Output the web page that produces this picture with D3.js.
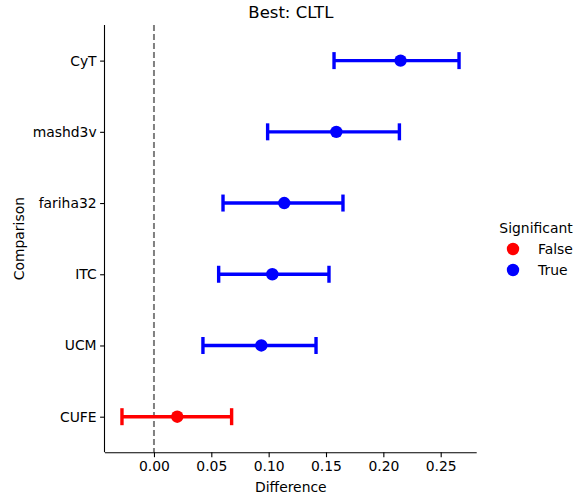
<!DOCTYPE html>
<html>
<head>
<meta charset="utf-8">
<script src="https://cdn.jsdelivr.net/npm/d3@7"></script>
<style>
  body { margin: 0; background: #fff; }
  svg { display: block; font-family: "DejaVu Sans", sans-serif; }
</style>
</head>
<body>
<svg id="chart" width="584" height="495"></svg>
<script>
const categories = ["CyT", "mashd3v", "fariha32", "ITC", "UCM", "CUFE"];
const means = [0.215, 0.159, 0.1136, 0.1032, 0.0936, 0.0203];
const lows = [0.157, 0.0991, 0.0602, 0.0564, 0.0427, -0.0279];
const highs = [0.266, 0.214, 0.1648, 0.1526, 0.1413, 0.0677];
const significant = [true, true, true, true, true, false];
const xTicks = [0.00, 0.05, 0.10, 0.15, 0.20, 0.25];
const legendLabels = ["False", "True"];
const colorMap = { "False": "#ff0000", "True": "#0000ff" };

const svg = d3.select("#chart");
const pLeft = 105, pRight = 476.7, pTop = 25, pBottom = 452.3;
const FS = "13.9px";

const x = d3.scaleLinear().domain([-0.0427, 0.2814]).range([pLeft, pRight]);
const y = d3.scalePoint().domain(categories).range([pTop, pBottom]).padding(0.5);

const data = categories.map((c, i) => ({
  cat: c, mean: means[i], lo: lows[i], hi: highs[i], sig: significant[i] ? "True" : "False"
}));

// reference line at 0
svg.append("line")
  .attr("x1", x(0)).attr("x2", x(0))
  .attr("y1", pTop).attr("y2", pBottom)
  .attr("stroke", "#808080").attr("stroke-width", 2)
  .attr("stroke-dasharray", "6,3");

// error bars
const g = svg.append("g");
data.forEach(d => {
  const col = colorMap[d.sig];
  const yy = y(d.cat);
  g.append("line").attr("x1", x(d.lo)).attr("x2", x(d.hi)).attr("y1", yy).attr("y2", yy)
    .attr("stroke", col).attr("stroke-width", 3.4);
  [d.lo, d.hi].forEach(v => {
    g.append("line").attr("x1", x(v)).attr("x2", x(v)).attr("y1", yy - 8.5).attr("y2", yy + 8.5)
      .attr("stroke", col).attr("stroke-width", 3.4);
  });
  g.append("circle").attr("cx", x(d.mean)).attr("cy", yy).attr("r", 6.2).attr("fill", col);
});

// x axis
const xAxis = svg.append("g").attr("transform", `translate(0,${pBottom})`)
  .call(d3.axisBottom(x).tickValues(xTicks).tickFormat(d3.format(".2f")).tickSizeOuter(0).tickSize(4.9).tickPadding(3.5));
xAxis.select(".domain").attr("stroke", "#000").attr("stroke-width", 1.1)
  .attr("d", `M${pLeft},0.5H${pRight}`);
xAxis.selectAll("text").attr("font-size", FS).attr("fill", "#000").attr("font-family", "DejaVu Sans");
xAxis.selectAll(".tick line").attr("stroke", "#000").attr("stroke-width", 1.1);

// y axis
const yAxis = svg.append("g").attr("transform", `translate(${pLeft},0)`)
  .call(d3.axisLeft(y).tickSizeOuter(0).tickSize(4.9).tickPadding(3.5));
yAxis.select(".domain").attr("stroke", "#000").attr("stroke-width", 1.1)
  .attr("d", `M-0.5,${pTop}V${pBottom}`);
yAxis.selectAll("text").attr("font-size", FS).attr("fill", "#000").attr("font-family", "DejaVu Sans");
yAxis.selectAll(".tick line").attr("stroke", "#000").attr("stroke-width", 1.1);

// axis titles
svg.append("text").attr("x", (pLeft + pRight) / 2).attr("y", 492).attr("text-anchor", "middle")
  .attr("font-size", FS).text("Difference");
svg.append("text").attr("transform", `translate(23.5,${(pTop + pBottom) / 2}) rotate(-90)`)
  .attr("text-anchor", "middle").attr("font-size", FS).text("Comparison");

// title
svg.append("text").attr("x", (pLeft + pRight) / 2).attr("y", 18).attr("text-anchor", "middle")
  .attr("font-size", "16.5px").text("Best: CLTL");

// legend
const lg = svg.append("g");
lg.append("text").attr("x", 536).attr("y", 233).attr("text-anchor", "middle")
  .attr("font-size", FS).text("Significant");
legendLabels.forEach((lab, i) => {
  const ly = 249 + i * 21;
  lg.append("circle").attr("cx", 513).attr("cy", ly).attr("r", 6.2).attr("fill", colorMap[lab]);
  lg.append("text").attr("x", 538).attr("y", ly + 5).attr("font-size", FS).text(lab);
});
</script>
</body>
</html>
